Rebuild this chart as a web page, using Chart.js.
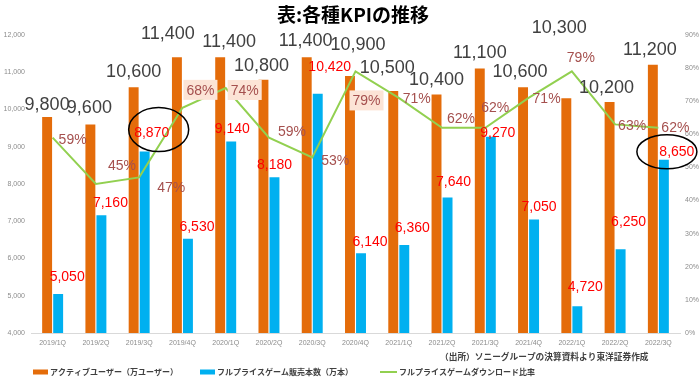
<!DOCTYPE html>
<html>
<head>
<meta charset="utf-8">
<script src="https://cdn.jsdelivr.net/npm/chart.js@4/dist/chart.umd.min.js"></script>
<style>
  body { margin: 0; background: #fff; }
  #wrap { width: 700px; height: 383px; position: relative; }
</style>
</head>
<body>
<div id="wrap"><canvas id="grafico"></canvas></div>
<script>
const quarters = ["2019/1Q","2019/2Q","2019/3Q","2019/4Q","2020/1Q","2020/2Q","2020/3Q","2020/4Q",
                  "2021/1Q","2021/2Q","2021/3Q","2021/4Q","2022/1Q","2022/2Q","2022/3Q"];
const activeUsers = [9800, 9600, 10600, 11400, 11400, 10800, 11400, 10900, 10500, 10400, 11100, 10600, 10300, 10200, 11200];
const gameSales   = [5050, 7160, 8870, 6530, 9140, 8180, 10420, 6140, 6360, 7640, 9270, 7050, 4720, 6250, 8650];
const dlRatio     = [59, 45, 47, 68, 74, 59, 53, 79, 71, 62, 62, 71, 79, 63, 62];

const seriesNames = ["アクティブユーザー（万ユーザー）", "フルプライスゲーム販売本数（万本）", "フルプライスゲームダウンロード比率"];
const titleText = "表:各種KPIの推移";
const sourceText = "（出所）ソニーグループの決算資料より東洋証券作成";

// ラベル位置の微調整 (px)
const userOff  = [[0,-12],[-1,-16],[0,-15],[-9,-23],[9,-15],[-2,-14],[-1,-16],[8,-31],[-6,-23],[0,-15],[0,-15],[-3,-15],[-7,-70],[-3,-14],[-3,-15]];
const salesOff = [[9,-17],[9,-12],[7,-18],[9,-12],[1,-12],[0,-12],[12,-27],[9,-11],[8,-17],[6,-15],[7,-4],[5,-12],[8,-19],[8,-27],[13,-8]];
const ratioOff = [[20,1],[26,-19],[32,10],[18,-18],[19,2],[23,-7],[23,3],[11,29],[18,0],[19,-10],[10,-21],[18,0],[9,-14],[17,1],[17,-1]];
const boxed = [3, 4, 7];
const circled = [2, 14];

const C_ORANGE = "#E46C0A";
const C_BLUE = "#00B0F0";
const C_GREEN = "#92D050";
const JP = '"Noto Sans CJK JP", "Noto Sans", sans-serif';
const NUM = '"Liberation Sans", Arial, sans-serif';

const fmt = v => v.toLocaleString("en-US");

const labelsPlugin = {
    id: "etiquetas",
    afterDatasetsDraw(chart) {
        const ctx = chart.ctx;
        const mUser = chart.getDatasetMeta(0).data;
        const mSales = chart.getDatasetMeta(1).data;
        const mRatio = chart.getDatasetMeta(2).data;
        ctx.save();
        ctx.textAlign = "center";
        ctx.textBaseline = "middle";

        // 比率
        ctx.font = `14px ${NUM}`;
        mRatio.forEach((p, i) => {
            const x = p.x + ratioOff[i][0], y = p.y + ratioOff[i][1];
            const txt = dlRatio[i] + "%";
            if (boxed.includes(i)) {
                const w = ctx.measureText(txt).width + 6;
                ctx.fillStyle = "#FCE4D6";
                ctx.fillRect(x - w/2, y - 10, w, 20);
            }
            ctx.fillStyle = "#A5504E";
            ctx.fillText(txt, x, y + 1);
        });

        // 販売本数
        ctx.font = `14px ${NUM}`;
        ctx.fillStyle = "#FF0000";
        mSales.forEach((b, i) => {
            ctx.fillText(fmt(gameSales[i]), b.x + salesOff[i][0], b.y + salesOff[i][1]);
        });

        // 円
        ctx.strokeStyle = "#000";
        ctx.lineWidth = 1.5;
        circled.forEach(i => {
            const b = mSales[i];
            const cx = b.x + salesOff[i][0] + (i === 2 ? 7 : -10);
            const cy = b.y + salesOff[i][1] + (i === 2 ? -4 : 0);
            ctx.beginPath();
            ctx.ellipse(cx, cy, 30, i === 2 ? 22 : 17, 0, 0, Math.PI * 2);
            ctx.stroke();
        });

        // アクティブユーザー
        ctx.font = `18px ${NUM}`;
        ctx.fillStyle = "#404040";
        mUser.forEach((b, i) => {
            ctx.fillText(fmt(activeUsers[i]), b.x + userOff[i][0], b.y + userOff[i][1]);
        });
        ctx.restore();
    },
    afterDraw(chart) {
        const ctx = chart.ctx;
        ctx.save();
        ctx.textBaseline = "middle";
        ctx.textAlign = "center";
        ctx.fillStyle = "#000";
        ctx.font = `bold 19px ${JP}`;
        ctx.fillText(titleText, 353, 15);

        ctx.textAlign = "left";
        ctx.fillStyle = "#404040";
        ctx.font = `bold 8.7px ${JP}`;
        ctx.fillText(sourceText, 440, 357);

        // 凡例
        ctx.font = `bold 8px ${JP}`;
        const ly = 372;
        ctx.fillStyle = C_ORANGE;
        ctx.fillRect(33, ly - 2.5, 15, 5);
        ctx.fillStyle = "#404040";
        ctx.fillText(seriesNames[0], 50, ly);
        ctx.fillStyle = C_BLUE;
        ctx.fillRect(200, ly - 2.5, 15, 5);
        ctx.fillStyle = "#404040";
        ctx.fillText(seriesNames[1], 217, ly);
        ctx.strokeStyle = C_GREEN;
        ctx.lineWidth = 2;
        ctx.beginPath();
        ctx.moveTo(380, ly);
        ctx.lineTo(397, ly);
        ctx.stroke();
        ctx.fillText(seriesNames[2], 399, ly);
        ctx.restore();
    }
};

const tickFont = { size: 7, family: NUM };

new Chart(document.getElementById("grafico"), {
    data: {
        labels: quarters,
        datasets: [
            { type: "bar", label: seriesNames[0], data: activeUsers, backgroundColor: C_ORANGE,
              yAxisID: "y", order: 2, categoryPercentage: 0.51, barPercentage: 0.9 },
            { type: "bar", label: seriesNames[1], data: gameSales, backgroundColor: C_BLUE,
              yAxisID: "y", order: 2, categoryPercentage: 0.51, barPercentage: 0.9 },
            { type: "line", label: seriesNames[2], data: dlRatio, borderColor: C_GREEN, borderWidth: 2,
              pointRadius: 0, tension: 0, yAxisID: "y1", order: 1 }
        ]
    },
    options: {
        responsive: true,
        maintainAspectRatio: false,
        animation: false,
        layout: { padding: { top: 35, left: 0, right: 0, bottom: 0 } },
        plugins: { legend: { display: false }, tooltip: { enabled: false } },
        scales: {
            x: {
                grid: { display: false, drawTicks: false },
                border: { display: true, color: "#D9D9D9", width: 1 },
                ticks: { font: tickFont, color: "#8C8C8C", padding: 6, maxRotation: 0, autoSkip: false },
                afterFit(s) { s.height = 50; }
            },
            y: {
                position: "left", min: 4000, max: 12000,
                grid: { display: false, drawTicks: false }, border: { display: false },
                ticks: { stepSize: 1000, font: tickFont, color: "#8C8C8C", padding: 6, callback: v => fmt(v) },
                afterFit(s) { s.width = 31; }
            },
            y1: {
                position: "right", min: 0, max: 90,
                grid: { display: false, drawTicks: false }, border: { display: false },
                ticks: { stepSize: 10, font: tickFont, color: "#8C8C8C", padding: 5, callback: v => v + "%" },
                afterFit(s) { s.width = 20; }
            }
        }
    },
    plugins: [labelsPlugin]
});
</script>
</body>
</html>
